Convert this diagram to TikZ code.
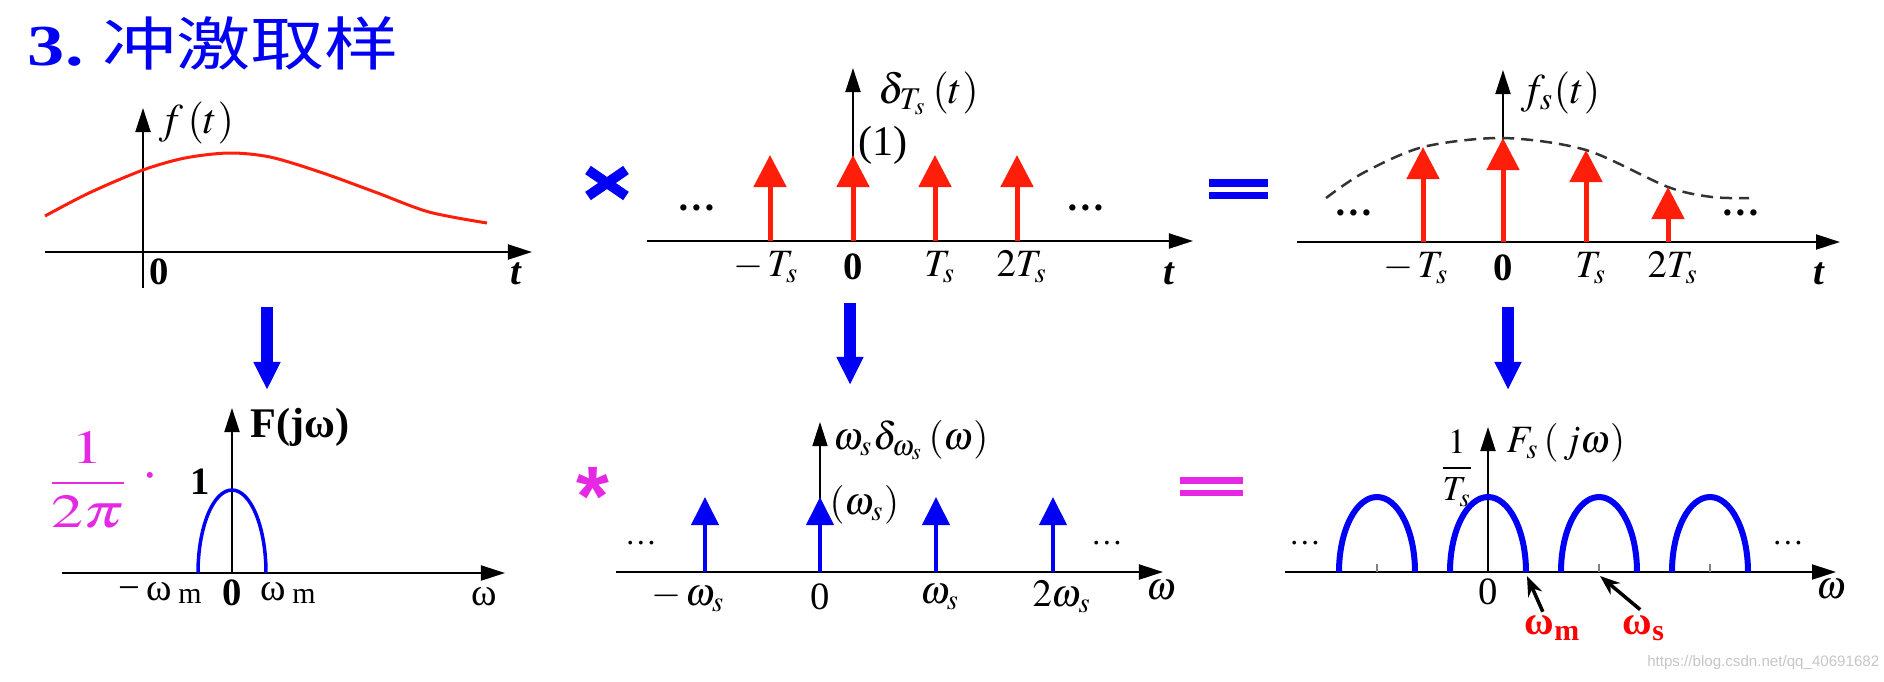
\documentclass[tikz,border=0pt]{standalone}
\usepackage{amsmath}
\usepackage{mathptmx}
\usepackage[no-math]{fontspec}
\setmainfont{Liberation Serif}
\setsansfont{Liberation Sans}
\newfontfamily\cjkfont{Noto Sans CJK SC}
\usetikzlibrary{arrows.meta}
\definecolor{slideblue}{RGB}{0,0,245}
\definecolor{pulsered}{RGB}{255,30,10}
\definecolor{convmagenta}{RGB}{228,40,228}

\begin{document}
\begin{tikzpicture}[x=0.01cm, y=-0.01cm,
    axis/.style={line width=0.02cm, -{Triangle[length=0.24cm,width=0.15cm]}},
    redpulse/.style={pulsered, line width=0.05cm, -{Triangle[length=0.32cm,width=0.32cm]}},
    bluepulse/.style={slideblue, line width=0.04cm, -{Triangle[length=0.28cm,width=0.27cm]}},
    downarrow/.style={slideblue, line width=0.12cm, -{Triangle[length=0.28cm,width=0.25cm]}},
    pointer/.style={line width=0.035cm, -{Stealth[length=0.2cm,width=0.15cm]}},
    lbl/.style={inner sep=0pt, font=\fontsize{11}{13}\selectfont},
    fnlbl/.style={inner sep=0pt, anchor=west, font=\fontsize{12}{14}\selectfont},
    bigdots/.style={inner sep=0pt, font=\fontsize{11}{12}\selectfont\bfseries},
    smalldots/.style={inner sep=0pt, font=\fontsize{9}{10}\selectfont}]
  \useasboundingbox (0,0) rectangle (1884,681);

  % Title
  \node[anchor=west, inner sep=0pt, xscale=1.28, text=slideblue,
        font=\fontsize{16.5}{19}\selectfont] (title) at (27,43)
        {\textbf{3.}\ \cjkfont 冲激取样};

  % Time signal f(t)
  \draw[axis] (45,252) -- (532,252);
  \draw[axis] (143,288) -- (143,108);
  \draw[pulsered, line width=0.03cm] plot[smooth] coordinates
        {(45,216) (89,193) (143,170) (185,158) (229,153) (270,157) (320,172) (375,192) (429,212) (487,223)};
  \node[fnlbl] (flbl) at (158,123) {$f\,(t)$};
  \node[lbl] (fzero) at (159,272) {\textbf{0}};
  \node[lbl] (ft) at (516,274) {\textbf{\textit{t}}};

  % Impulse train
  \draw[axis] (647,241) -- (1193,241);
  \draw[axis] (853,241) -- (853,68);
  \foreach \px in {770,853,935,1017}
    \draw[redpulse] (\px,241) -- (\px,155);
  \node[fnlbl] (dlbl) at (878,93) {$\delta_{T_s}\,(t)$};
  \node[fnlbl] (dwt) at (858,145) {(1)};
  \node[bigdots] (ddl) at (697,208) {\ldots};
  \node[bigdots] (ddr) at (1086,208) {\ldots};
  \node[lbl] (dm1) at (766,267) {$-\,T_s$};
  \node[lbl] (dz) at (853,267) {\textbf{0}};
  \node[lbl] (dp1) at (940,267) {$T_s$};
  \node[lbl] (dp2) at (1022,267) {$2T_s$};
  \node[lbl] (dt) at (1169,274) {\textbf{\textit{t}}};

  % Sampled signal
  \draw[axis] (1297,242) -- (1840,242);
  \draw[axis] (1503,242) -- (1503,70);
  \draw[line width=0.025cm, black!80, dash pattern=on 0.12cm off 0.07cm] plot[smooth] coordinates
        {(1326,198) (1363,173) (1423,147) (1503,138) (1586,150) (1668,187) (1712,197) (1749,198)};
  \draw[redpulse] (1423,242) -- (1423,147);
  \draw[redpulse] (1503,242) -- (1503,138);
  \draw[redpulse] (1586,242) -- (1586,150);
  \draw[redpulse] (1668,242) -- (1668,187);
  \node[fnlbl] (slbl) at (1520,93) {$f_s(t)$};
  \node[bigdots] (sdl) at (1354,213) {\ldots};
  \node[bigdots] (sdr) at (1741,213) {\ldots};
  \node[lbl] (sm1) at (1416,268) {$-\,T_s$};
  \node[lbl] (sz) at (1503,268) {\textbf{0}};
  \node[lbl] (sp1) at (1591,268) {$T_s$};
  \node[lbl] (sp2) at (1673,268) {$2T_s$};
  \node[lbl] (st) at (1819,274) {\textbf{\textit{t}}};

  % Operators, top row
  \draw[slideblue, line width=0.1cm] (588,170) -- (626,196);
  \draw[slideblue, line width=0.1cm] (588,196) -- (626,170);
  \fill[slideblue] (1209,179) rectangle (1268,187);
  \fill[slideblue] (1209,192) rectangle (1268,199);

  % Fourier transform arrows
  \draw[downarrow] (267,307) -- (267,390);
  \draw[downarrow] (850,303) -- (850,385);
  \draw[downarrow] (1508,307) -- (1508,390);

  % Spectrum F(jw)
  \draw[axis] (62,573) -- (505,573);
  \draw[axis] (232,573) -- (232,408);
  \draw[slideblue, line width=0.035cm] (198,573)
        arc[start angle=180, end angle=360, x radius=34, y radius=83];
  \node[lbl] (fone) at (200,482) {\textbf{1}};
  \node[fnlbl] (Flbl) at (250,427) {\textbf{F(jω)}};
  \node[inner sep=0pt, xscale=1.35, text=convmagenta, font=\fontsize{13.5}{15}\selectfont]
        (scal) at (88,480) {$\dfrac{1}{2\pi}$};
  \node[inner sep=0pt, text=convmagenta, font=\fontsize{16}{16}\selectfont] (scaldot) at (150,477) {$\boldsymbol{\cdot}$};
  \node[lbl] (Fm) at (160,593) {−\,ω\,\raisebox{-0.2ex}{\fontsize{8.5}{8}\selectfont m}};
  \node[lbl] (Fz) at (232,593) {\textbf{0}};
  \node[lbl] (Fp) at (288,593) {ω\,\raisebox{-0.2ex}{\fontsize{8.5}{8}\selectfont m}};
  \node[lbl] (Fw) at (484,597) {ω};

  % Spectrum of impulse train
  \draw[axis] (616,572) -- (1163,572);
  \draw[axis, line width=0.015cm] (820,572) -- (820,422);
  \foreach \px in {705,820,936,1053}
    \draw[bluepulse] (\px,572) -- (\px,497);
  \node[fnlbl, font=\fontsize{11}{13}\selectfont] (wlbl) at (833,440) {$\omega_s\delta_{\omega_s}\,(\omega)$};
  \node[fnlbl, font=\fontsize{11}{13}\selectfont] (wwt) at (829,505) {$(\omega_s)$};
  \node[smalldots] (wdl) at (641,543) {\ldots};
  \node[smalldots] (wdr) at (1107,543) {\ldots};
  \node[lbl] (wm1) at (688,597) {$-\,\omega_s$};
  \node[lbl] (wz) at (820,597) {0};
  \node[lbl] (wp1) at (940,597) {$\omega_s$};
  \node[lbl] (wp2) at (1062,597) {$2\omega_s$};
  \node[lbl] (ww) at (1161,590) {$\omega$};

  % Operators, bottom row
  \node[anchor=base, inner sep=0pt, text=convmagenta, font=\sffamily\bfseries\fontsize{24}{24}\selectfont]
        (conv) at (593,525) {*};
  \fill[convmagenta] (1180,477) rectangle (1243,484);
  \fill[convmagenta] (1180,490) rectangle (1243,496);

  % Spectrum of sampled signal
  \draw[axis] (1285,572) -- (1836,572);
  \draw[axis] (1488,572) -- (1488,427);
  \foreach \hc in {1377,1599,1710}
    \draw[gray, line width=0.015cm] (\hc,572) -- (\hc,564);
  \foreach \hc in {1377,1488,1599,1710}
    \draw[slideblue, line width=0.06cm] ({\hc-38},572)
        arc[start angle=180, end angle=360, x radius=38, y radius=75];
  \node[inner sep=0pt, font=\fontsize{10}{12}\selectfont] (sfrac) at (1457,468) {$\dfrac{1}{T_s}$};
  \node[fnlbl, font=\fontsize{11}{13}\selectfont] (Slbl) at (1506,443) {$F_s\,(\,j\omega)$};
  \node[smalldots] (Sdl) at (1305,543) {\ldots};
  \node[smalldots] (Sdr) at (1788,543) {\ldots};
  \node[lbl] (Sz) at (1488,592) {0};
  \node[lbl] (Sw) at (1831,589) {$\omega$};
  \coordinate (wmpt) at (1527,576);
  \coordinate (wspt) at (1600,576);
  \node[anchor=west, inner sep=0pt, text=red, font=\fontsize{11.5}{13}\selectfont\bfseries]
        (wmlbl) at (1524,628) {ω\textsubscript{m}};
  \node[anchor=west, inner sep=0pt, text=red, font=\fontsize{11.5}{13}\selectfont\bfseries]
        (wslbl) at (1622,628) {ω\textsubscript{s}};
  \draw[pointer] ([xshift=-0.1cm,yshift=0.03cm]wmlbl.north) -- (wmpt);
  \draw[pointer] ([xshift=-0.04cm,yshift=0.05cm]wslbl.north) -- (wspt);

  % Source mark
  \node[anchor=east, inner sep=0pt, text=gray!45, font=\sffamily\fontsize{4.3}{5}\selectfont]
        (wmark) at (1880,663) {https://blog.csdn.net/qq\_40691682};
\end{tikzpicture}
\end{document}
